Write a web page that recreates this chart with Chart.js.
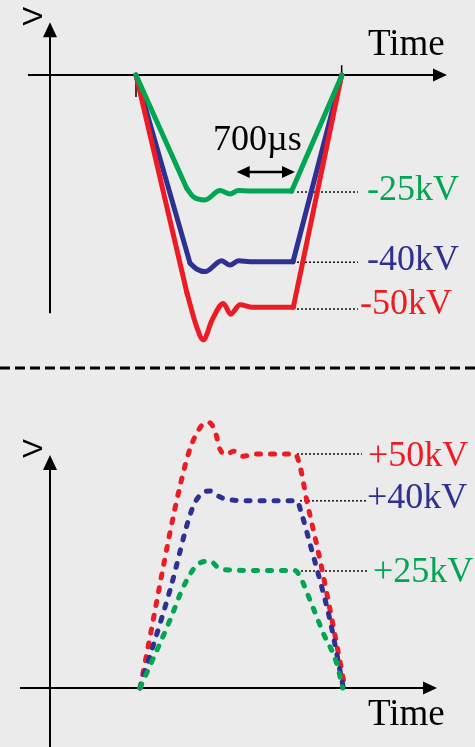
<!DOCTYPE html>
<html>
<head>
<meta charset="utf-8">
<script src="https://cdn.jsdelivr.net/npm/chart.js@4.4.1/dist/chart.umd.min.js"></script>
<style>
html,body{margin:0;padding:0;background:#ebebeb;}
#wrap{position:relative;width:475px;height:747px;overflow:hidden;background:#ebebeb;}
canvas{position:absolute;left:0;}
#topChart{top:0;}
#botChart{top:370px;}
</style>
</head>
<body>
<div id="wrap">
<canvas id="topChart" width="475" height="370"></canvas>
<canvas id="botChart" width="475" height="377"></canvas>
</div>
<script>
// time in µs from pulse start, voltage in kV

// negative pulses (solid)
const neg25Time = [0, 608, 688, 828, 1008, 1128, 1228, 1368, 1868, 2472]
const neg25 = [0, -24.2, -26.0, -26.7, -24.7, -25.4, -24.7, -24.8, -24.8, 0]

const neg40Time = [0, 648, 732, 828, 1028, 1128, 1228, 1368, 1884, 2468]
const neg40 = [0, -40.2, -41.5, -42.0, -39.7, -40.6, -39.7, -39.9, -39.9, 0]

const neg50Time = [0, 612, 728, 808, 912, 1048, 1136, 1248, 1388, 1888, 2468]
const neg50 = [0, -46.6, -53.8, -56.6, -52.4, -48.8, -51.1, -49.1, -49.6, -49.6, 0]

// positive pulses (dashed)
const pos50Time = [0, 560, 720, 820, 900, 960, 1040, 1120, 1240, 1360, 1860, 1920, 2000, 2160, 2320, 2460]
const pos50 = [0, 48.8, 55.6, 56.8, 54.9, 51.0, 49.9, 50.6, 49.5, 50, 50, 47.4, 40.2, 27.4, 13.1, 0]

const pos40Time = [0, 360, 620, 720, 840, 920, 1040, 1360, 1880, 1940, 2040, 2160, 2280, 2440]
const pos40 = [0, 20.9, 38.0, 41.2, 42.1, 41.2, 40.3, 40, 40, 37.2, 30.8, 23.0, 14.5, 0]

const pos25Time = [0, 360, 520, 680, 836, 960, 1120, 1360, 1860, 1920, 2040, 2200, 2360, 2432]
const pos25 = [0, 14.5, 21.6, 26.2, 27.1, 25.5, 25.2, 25.1, 25.1, 23.8, 18.8, 11.7, 5.3, 0]

const negLevels = [-25, -40, -50]
const negLabels = ["-25kV", "-40kV", "-50kV"]
const posLevels = [50, 40, 25]
const posLabels = ["+50kV", "+40kV", "+25kV"]

const RED = "#ed1c24"
const BLUE = "#2e3192"
const GREEN = "#00a651"

function pts(ts, vs){
  return ts.map((t, i) => ({x: t, y: vs[i]}))
}

function lineSet(data, color, dashed, smooth){
  return {
    data: data,
    showLine: true,
    borderColor: color,
    borderWidth: 5,
    borderDash: dashed ? [4, 10] : [],
    borderCapStyle: "round",
    borderJoinStyle: "round",
    pointRadius: 0,
    cubicInterpolationMode: smooth ? "monotone" : "default",
    tension: 0,
    fill: false
  }
}

// solid pulse: straight fall, smooth ripple part, straight rise
function solidPulse(ts, vs, color){
  const p = pts(ts, vs)
  const n = p.length
  return [
    lineSet(p.slice(n - 2), color, false, false),
    lineSet(p.slice(1, n - 1), color, false, true),
    lineSet(p.slice(0, 2), color, false, false)
  ]
}

function dashedPulse(ts, vs, color){
  return lineSet(pts(ts, vs), color, true, true)
}

function leader(t0, t1, level){
  return {
    data: [{x: t0, y: level}, {x: t1, y: level}],
    showLine: true,
    borderColor: "#111",
    borderWidth: 1.5,
    borderDash: [2, 2],
    pointRadius: 0,
    fill: false
  }
}

function arrowHead(ctx, x, y, ang, len, half){
  ctx.save()
  ctx.translate(x, y)
  ctx.rotate(ang)
  ctx.beginPath()
  ctx.moveTo(0, 0)
  ctx.lineTo(-len, -half)
  ctx.lineTo(-len, half)
  ctx.closePath()
  ctx.fill()
  ctx.restore()
}

// axes, arrows and texts, placed in data units
function decor(cfg){
  return {
    id: "decor",
    beforeDatasetsDraw(chart){
      const ctx = chart.ctx
      const xs = chart.scales.x, ys = chart.scales.y
      ctx.save()
      ctx.strokeStyle = "#000"
      ctx.fillStyle = "#000"
      ctx.lineWidth = 2
      // time axis
      const y0 = ys.getPixelForValue(0)
      const xa = xs.getPixelForValue(cfg.hAxis[0]), xb = xs.getPixelForValue(cfg.hAxis[1])
      ctx.beginPath(); ctx.moveTo(xa, y0); ctx.lineTo(xb - 10, y0); ctx.stroke()
      arrowHead(ctx, xb, y0, 0, 14, 6.5)
      // voltage axis
      const xv = xs.getPixelForValue(cfg.vAxisT)
      const ya = ys.getPixelForValue(cfg.vAxis[0]), yb = ys.getPixelForValue(cfg.vAxis[1])
      ctx.beginPath(); ctx.moveTo(xv, ya); ctx.lineTo(xv, yb + 10); ctx.stroke()
      arrowHead(ctx, xv, yb, -Math.PI / 2, 15, 7)
      // small ticks
      ctx.lineWidth = 1.5
      cfg.ticks.forEach(tk => {
        ctx.beginPath()
        ctx.moveTo(xs.getPixelForValue(tk[0]), ys.getPixelForValue(tk[1]))
        ctx.lineTo(xs.getPixelForValue(tk[0]), ys.getPixelForValue(tk[2]))
        ctx.stroke()
      })
      ctx.restore()
    },
    afterDatasetsDraw(chart){
      const ctx = chart.ctx
      const xs = chart.scales.x, ys = chart.scales.y
      ctx.save()
      // rotated V
      ctx.fillStyle = "#000"
      ctx.font = '28px "Liberation Sans"'
      ctx.translate(xs.getPixelForValue(cfg.vLabel[0]), ys.getPixelForValue(cfg.vLabel[1]))
      ctx.rotate(-Math.PI / 2)
      ctx.textAlign = "center"
      ctx.textBaseline = "middle"
      ctx.fillText("V", 0, 0)
      ctx.restore()

      ctx.save()
      ctx.textAlign = "left"
      ctx.textBaseline = "alphabetic"
      ctx.fillStyle = "#000"
      ctx.font = '37px "Liberation Serif"'
      ctx.fillText("Time", xs.getPixelForValue(cfg.timeLabel[0]), ys.getPixelForValue(cfg.timeLabel[1]))
      ctx.font = '36px "Liberation Serif"'
      cfg.labels.forEach(l => {
        ctx.fillStyle = l.color
        ctx.fillText(l.text, xs.getPixelForValue(l.t), ys.getPixelForValue(l.v))
      })
      if(cfg.span){
        const s = cfg.span
        ctx.fillStyle = "#000"
        ctx.fillText(s.text, xs.getPixelForValue(s.textAt[0]), ys.getPixelForValue(s.textAt[1]))
        const x1 = xs.getPixelForValue(s.from), x2 = xs.getPixelForValue(s.to), yy = ys.getPixelForValue(s.v)
        ctx.strokeStyle = "#000"
        ctx.lineWidth = 2.5
        ctx.beginPath(); ctx.moveTo(x1 + 8, yy); ctx.lineTo(x2 - 8, yy); ctx.stroke()
        arrowHead(ctx, x2, yy, 0, 13, 6)
        arrowHead(ctx, x1, yy, Math.PI, 13, 6)
      }
      if(cfg.separator){
        ctx.strokeStyle = "#000"
        ctx.lineWidth = 3
        ctx.setLineDash([10, 5])
        ctx.beginPath()
        ctx.moveTo(chart.chartArea.left, chart.chartArea.bottom - 2)
        ctx.lineTo(chart.chartArea.right, chart.chartArea.bottom - 2)
        ctx.stroke()
      }
      ctx.restore()
    }
  }
}

function makeChart(id, datasets, xr, yr, cfg){
  return new Chart(document.getElementById(id), {
    type: "scatter",
    data: {datasets: datasets},
    options: {
      responsive: false,
      animation: false,
      events: [],
      layout: {padding: 0},
      plugins: {legend: {display: false}, tooltip: {enabled: false}},
      scales: {
        x: {type: "linear", min: xr[0], max: xr[1], display: false},
        y: {type: "linear", min: yr[0], max: yr[1], display: false}
      }
    },
    plugins: [decor(cfg)]
  })
}

const negColors = [GREEN, BLUE, RED]
const posColors = [RED, BLUE, GREEN]

makeChart("topChart", [
  ...solidPulse(neg25Time, neg25, GREEN),
  ...solidPulse(neg50Time, neg50, RED),
  ...solidPulse(neg40Time, neg40, BLUE),
  leader(1932, 2664, negLevels[0]),
  leader(1932, 2664, negLevels[1]),
  leader(1932, 2664, negLevels[2])
], [-1632, 4068], [-63.03, 16.03], {
  hAxis: [-1296, 3732],
  vAxisT: -1032,
  vAxis: [-50.9, 11.3],
  vLabel: [-1218, 12.6],
  timeLabel: [2784, 4.27],
  ticks: [[0, 0, -4.7], [2468, 2.1, 0]],
  labels: [
    {text: negLabels[0], color: negColors[0], t: 2772, v: -26.7},
    {text: negLabels[1], color: negColors[1], t: 2772, v: -41.7},
    {text: negLabels[2], color: negColors[2], t: 2688, v: -51.1}
  ],
  span: {text: "700µs", textAt: [924, -16.0], from: 1208, to: 1908, v: -20.7},
  separator: true
})

makeChart("botChart", [
  dashedPulse(pos25Time, pos25, GREEN),
  dashedPulse(pos40Time, pos40, BLUE),
  dashedPulse(pos50Time, pos50, RED),
  leader(1884, 2664, posLevels[0]),
  leader(1920, 2724, posLevels[1]),
  leader(1884, 2724, posLevels[2])
], [-1680, 4020], [-12.61, 67.95], {
  hAxis: [-1440, 3564],
  vAxisT: -1080,
  vAxis: [-12.61, 49.8],
  vLabel: [-1266, 51.2],
  timeLabel: [2736, -7.9],
  ticks: [],
  labels: [
    {text: posLabels[0], color: posColors[0], t: 2736, v: 47.4},
    {text: posLabels[1], color: posColors[1], t: 2724, v: 38.5},
    {text: posLabels[2], color: posColors[2], t: 2796, v: 22.6}
  ]
})
</script>
</body>
</html>
